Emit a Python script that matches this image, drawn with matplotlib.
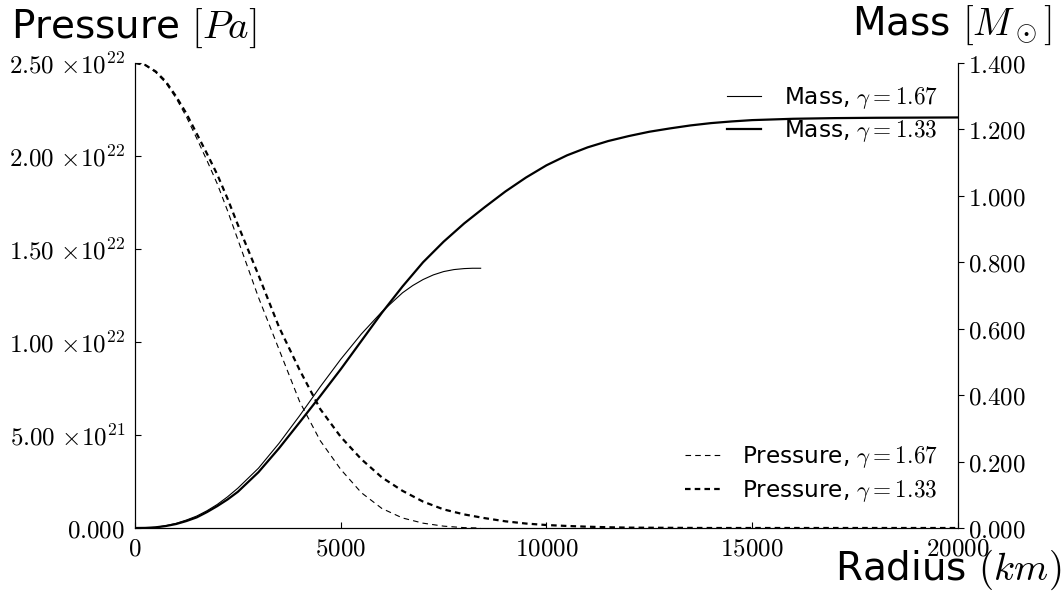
import numpy as np
import matplotlib
matplotlib.use("Agg")
import matplotlib.pyplot as plt
from matplotlib.ticker import FuncFormatter, MultipleLocator

plt.rcParams['mathtext.fontset'] = 'cm'
plt.rcParams['font.family'] = 'DejaVu Sans'
plt.rcParams['lines.scale_dashes'] = False

# radius in km, pressure in units of 1e22 Pa, mass in solar masses
r_p167 = [0, 250, 500, 750, 1000, 1250, 1500, 1750, 2000, 2250, 2500, 3000,
          3500, 4000, 4500, 5000, 5500, 6000, 6500, 7000, 7500, 8000, 8400]
p_167 = [2.500, 2.488, 2.450, 2.392, 2.310, 2.210, 2.095, 1.975, 1.850, 1.705,
         1.550, 1.240, 0.960, 0.680, 0.470, 0.315, 0.190, 0.105, 0.054, 0.026,
         0.010, 0.002, 0.0]

r_p133 = [0, 250, 500, 750, 1000, 1250, 1500, 1750, 2000, 2250, 2500, 3000,
          3500, 4000, 4500, 5000, 5500, 6000, 6500, 7000, 7500, 8000, 8500,
          9000, 9500, 10000, 10500, 11000, 11500, 12000, 13000, 14000, 20000]
p_133 = [2.500, 2.489, 2.455, 2.400, 2.320, 2.228, 2.120, 2.012, 1.900, 1.770,
         1.630, 1.360, 1.080, 0.850, 0.640, 0.490, 0.370, 0.272, 0.200, 0.142,
         0.100, 0.073, 0.053, 0.036, 0.024, 0.016, 0.011, 0.007, 0.004, 0.002,
         0.001, 0.0, 0.0]

r_m167 = [0, 250, 500, 750, 1000, 1250, 1500, 1750, 2000, 2250, 2500, 3000,
          3500, 4000, 4500, 5000, 5500, 6000, 6500, 6750, 7000, 7250, 7500,
          7750, 8000, 8200, 8400]
m_167 = [0.0, 0.0003, 0.002, 0.007, 0.014, 0.024, 0.036, 0.052, 0.071, 0.094,
         0.120, 0.180, 0.255, 0.338, 0.425, 0.508, 0.584, 0.651, 0.708, 0.730,
         0.748, 0.762, 0.772, 0.778, 0.781, 0.782, 0.782]

r_m133 = [0, 250, 500, 750, 1000, 1250, 1500, 1750, 2000, 2250, 2500, 3000,
          3500, 4000, 4500, 5000, 5500, 6000, 6500, 7000, 7500, 8000, 8500,
          9000, 9500, 10000, 10500, 11000, 11500, 12000, 12500, 13000, 13500,
          14000, 14500, 15000, 16000, 17000, 18000, 20000]
m_133 = [0.0, 0.0003, 0.002, 0.006, 0.012, 0.021, 0.032, 0.048, 0.066, 0.086,
         0.109, 0.168, 0.240, 0.318, 0.397, 0.478, 0.563, 0.648, 0.727, 0.800,
         0.862, 0.917, 0.966, 1.013, 1.055, 1.092, 1.122, 1.146, 1.165, 1.180,
         1.193, 1.203, 1.212, 1.219, 1.224, 1.228, 1.232, 1.234, 1.235, 1.236]

fig = plt.figure(figsize=(10.63, 5.93), dpi=100)
ax = fig.add_axes([0.127, 0.1096, 0.7742, 0.7842])
ax2 = ax.twinx()

thin, thick = 0.8, 1.6
dash = (0, (4, 3))

ax.plot(r_p167, np.array(p_167) * 1e22, color='black', lw=thin, ls=dash,
        label=r'Pressure, $\gamma=1.67$')
ax.plot(r_p133, np.array(p_133) * 1e22, color='black', lw=thick, ls=dash,
        label=r'Pressure, $\gamma=1.33$')
ax2.plot(r_m167, m_167, color='black', lw=thin, label=r'Mass, $\gamma=1.67$')
ax2.plot(r_m133, m_133, color='black', lw=thick, label=r'Mass, $\gamma=1.33$')

ax.set_xlim(0, 20000)
ax.set_ylim(0, 2.5e22)
ax2.set_ylim(0, 1.4)
ax.xaxis.set_major_locator(MultipleLocator(5000))
ax.yaxis.set_major_locator(MultipleLocator(5e21))
ax2.yaxis.set_major_locator(MultipleLocator(0.2))


def pressure_fmt(v, pos):
    if v == 0:
        return r'$0.000$'
    exp = int(np.floor(np.log10(abs(v))))
    return r'$%.2f\ {\times}10^{%d}$' % (v / 10**exp, exp)


ax.yaxis.set_major_formatter(FuncFormatter(pressure_fmt))
ax2.yaxis.set_major_formatter(FuncFormatter(lambda v, p: r'$%.3f$' % v))
ax.xaxis.set_major_formatter(FuncFormatter(lambda v, p: r'$%d$' % v))

for a in (ax, ax2):
    a.spines['top'].set_visible(False)
ax.tick_params(axis='both', direction='in', length=4, labelsize=18, top=False)
ax.tick_params(axis='y', pad=7)
ax.tick_params(axis='x', pad=6)
ax2.tick_params(axis='y', direction='out', length=4, labelsize=18, pad=3)

ax.set_ylabel(r'Pressure $[Pa]$', fontsize=28, rotation=0, ha='center',
              va='center')
ax.yaxis.set_label_coords(-0.002, 1.075)
ax2.set_ylabel(r'Mass $[M_\odot]$', fontsize=28, rotation=0, ha='center',
               va='center')
ax2.yaxis.set_label_coords(0.993, 1.08)
ax.set_xlabel(r'Radius $(km)$', fontsize=28, ha='center', va='center')
ax.xaxis.set_label_coords(0.988, -0.09)

legend_kw = dict(frameon=False, fontsize=16.7, borderaxespad=0, borderpad=0,
                 handlelength=1.5, handletextpad=0.95, labelspacing=0.32)
ax2.legend(loc='upper right', bbox_to_anchor=(0.975, 0.953), **legend_kw)
ax.legend(loc='lower right', bbox_to_anchor=(0.975, 0.052), **legend_kw)

fig.savefig('out.png', dpi=100)
